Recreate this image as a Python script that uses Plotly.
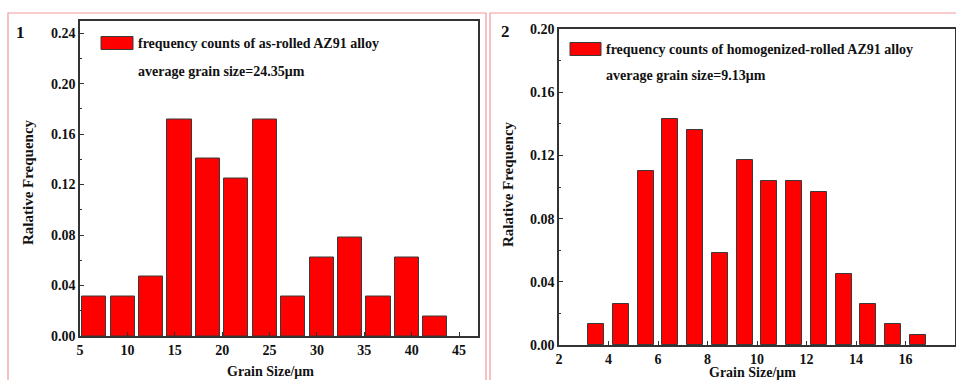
import plotly.graph_objects as go

# ---------------- data ----------------
left_centers = [6.5, 9.5, 12.5, 15.5, 18.5, 21.5, 24.5, 27.5, 30.5, 33.5, 36.5, 39.5, 42.5]
left_freq = [0.03125, 0.03125, 0.046875, 0.171875, 0.140625, 0.125, 0.171875,
             0.03125, 0.0625, 0.078125, 0.03125, 0.0625, 0.015625]
right_centers = [3.5, 4.5, 5.5, 6.5, 7.5, 8.5, 9.5, 10.5, 11.5, 12.5, 13.5, 14.5, 15.5, 16.5]
right_freq = [0.013, 0.026, 0.110, 0.143, 0.136, 0.058, 0.117, 0.104, 0.104, 0.097,
              0.045, 0.026, 0.013, 0.0065]

left_xticks = [5, 10, 15, 20, 25, 30, 35, 40, 45]
left_yticks = [0.00, 0.04, 0.08, 0.12, 0.16, 0.20, 0.24]
right_xticks = [2, 4, 6, 8, 10, 12, 14, 16, 18]
right_yticks = [0.00, 0.04, 0.08, 0.12, 0.16, 0.20]

left_legend = "frequency counts of as-rolled AZ91 alloy"
left_avg = "average grain size=24.35μm"
right_legend = "frequency counts of homogenized-rolled AZ91 alloy"
right_avg = "average grain size=9.13μm"
x_title = "Grain Size/μm"
y_title = "Ralative Frequency"

# ---------------- layout helpers ----------------
W, H = 956, 380
def px(x):
    return x / W
def py(y):
    return 1 - y / H

FONT = "Liberation Serif, Times New Roman, serif"
AX = "#333333"
BAR_LINE = "#3a3a3a"
PINK = "#f29a9a"

fig = go.Figure()
fig.add_trace(go.Bar(x=left_centers, y=left_freq, width=2.55,
                     marker=dict(color="#ff0000", line=dict(color=BAR_LINE, width=1)),
                     xaxis="x", yaxis="y", showlegend=False, name=left_legend))
fig.add_trace(go.Bar(x=right_centers, y=right_freq, width=0.64,
                     marker=dict(color="#ff0000", line=dict(color=BAR_LINE, width=1)),
                     xaxis="x2", yaxis="y2", showlegend=False, name=right_legend))

axis_common = dict(showline=True, linecolor=AX, linewidth=1.5, mirror=True,
                   ticks="inside", ticklen=4, tickwidth=1.2, tickcolor=AX,
                   showgrid=False, zeroline=False, automargin=False,
                   tickfont=dict(family=FONT, size=14, color="#111111", weight="bold"))

fig.update_layout(
    width=W, height=H,
    margin=dict(l=0, r=0, t=0, b=0, autoexpand=False),
    paper_bgcolor="white", plot_bgcolor="white",
    bargap=0,
    xaxis=dict(domain=[px(80), px(478)], range=[5, 47], tickvals=left_xticks,
               anchor="y", ticklabelstandoff=0, **axis_common),
    yaxis=dict(domain=[py(336), py(20.5)], range=[0, 0.25], tickvals=left_yticks,
               tickformat=".2f", anchor="x", ticklabelstandoff=0,
               minor=dict(ticks="inside", dtick=0.02, ticklen=2, tickcolor=AX),
               **axis_common),
    xaxis2=dict(domain=[px(559), px(955)], range=[2, 18], tickvals=right_xticks,
                anchor="y2", ticklabelstandoff=0, **axis_common),
    yaxis2=dict(domain=[py(345), py(29)], range=[0, 0.20], tickvals=right_yticks,
                tickformat=".2f", anchor="x2", ticklabelstandoff=0,
                minor=dict(ticks="inside", dtick=0.02, ticklen=2, tickcolor=AX),
                **axis_common),
)

shapes = []
# panel frames
shapes.append(dict(type="rect", xref="paper", yref="paper", x0=px(8), x1=px(486),
                   y0=py(400), y1=py(13), line=dict(color=PINK, width=1.2), layer="below"))
shapes.append(dict(type="rect", xref="paper", yref="paper", x0=px(490), x1=px(970),
                   y0=py(400), y1=py(13), line=dict(color=PINK, width=1.2), layer="below"))
# legend swatches
shapes.append(dict(type="rect", xref="paper", yref="paper", x0=px(101), x1=px(133),
                   y0=py(49.5), y1=py(36.5), fillcolor="#ff0000",
                   line=dict(color=BAR_LINE, width=1)))
shapes.append(dict(type="rect", xref="paper", yref="paper", x0=px(570), x1=px(601),
                   y0=py(55.5), y1=py(42.5), fillcolor="#ff0000",
                   line=dict(color=BAR_LINE, width=1)))
fig.update_layout(shapes=shapes)

def txt(x, y, s, size, xanchor="left", angle=0):
    return dict(x=px(x), y=py(y), xref="paper", yref="paper", text=s, showarrow=False,
                xanchor=xanchor, yanchor="middle", textangle=angle,
                font=dict(family=FONT, size=size, color="#111111", weight="bold"))

ann = [
    txt(20, 32, "1", 17, "center"),
    txt(505, 31, "2", 17, "center"),
    txt(136, 43, left_legend, 14),
    txt(136, 71, left_avg, 14),
    txt(604, 49, right_legend, 14),
    txt(604, 76, right_avg, 14),
    txt(270, 371, x_title, 14, "center"),
    txt(752, 372, x_title, 14, "center"),
    txt(28, 182, y_title, 15, "center", -90),
    txt(508, 184, y_title, 15, "center", -90),
]
fig.update_layout(annotations=ann)

fig.write_html(
    "out.html",
    config={"displayModeBar": False},
    post_script="document.body.style.margin='0';document.body.style.overflow='hidden';",
)
